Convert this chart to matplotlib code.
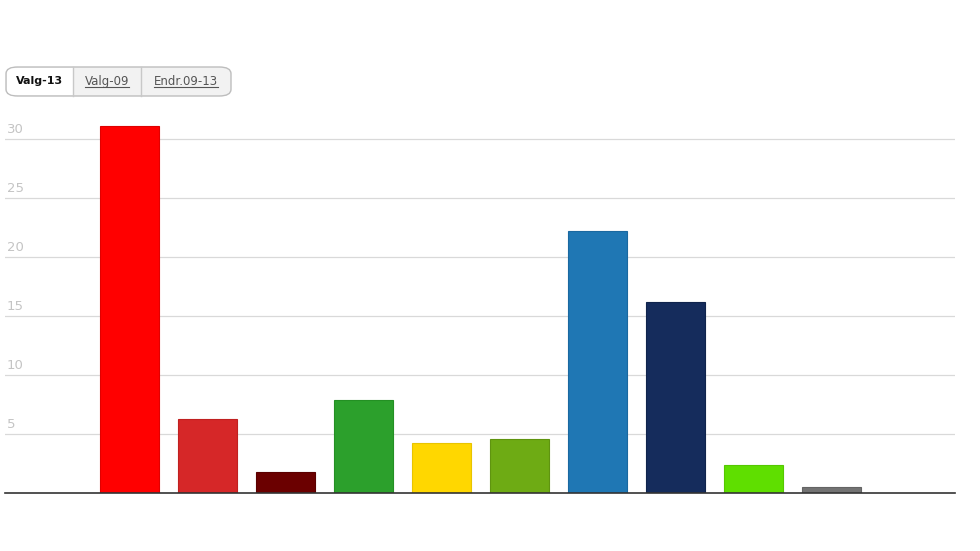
import matplotlib
matplotlib.use("Agg")
import matplotlib.pyplot as plt
from matplotlib.patches import FancyBboxPatch, Rectangle
from matplotlib.lines import Line2D
import matplotlib.transforms as mtransforms

# data
parties = ["A", "SV", "R", "Sp", "KrF", "V", "H", "FrP", "MDG", "Andre", ""]
values = [31.1, 6.25, 1.8, 7.9, 4.25, 4.6, 22.2, 16.2, 2.4, 0.5, 0]
colors = ["#ff0000", "#d62728", "#6b0000", "#2ca02c", "#ffd700", "#6eab14",
          "#1f77b4", "#152c5c", "#5fdf00", "#737373", "#ffffff"]
edges = ["#e00000", "#c02020", "#5a0000", "#249024", "#e8c400", "#5f9410",
         "#1a68a0", "#10244c", "#55c800", "#646464", "#ffffff"]
yticks = [5, 10, 15, 20, 25, 30]
buttons = ["Valg-13", "Valg-09", "Endr.09-13"]

W, H = 980, 551
fig = plt.figure(figsize=(W / 100, H / 100), dpi=100)

x0, x1 = 5, 955
ybase = 493
px_per_unit = 11.8
ymax = 33
ax = fig.add_axes([x0 / W, 1 - ybase / H, (x1 - x0) / W, ymax * px_per_unit / H])

pos = list(range(len(parties)))
ax.bar(pos, values, width=0.756, color=colors, edgecolor=edges, linewidth=0.8, zorder=3)

slot = 78
c0 = 129.5
ax.set_xlim((x0 - c0) / slot, (x1 - c0) / slot)
ax.set_ylim(0, ymax)

for t in yticks:
    ax.axhline(t, color="#d9d9d9", linewidth=0.9, zorder=1)
trans = mtransforms.blended_transform_factory(ax.transAxes, ax.transData)
for t in yticks:
    ax.text(2 / (x1 - x0), t + 0.5, str(t), transform=trans, color="#c4c4c4",
            fontsize=9.5, ha="left", va="baseline")

for s in ["top", "left", "right"]:
    ax.spines[s].set_visible(False)
ax.spines["bottom"].set_color("#333333")
ax.spines["bottom"].set_linewidth(1.2)
ax.spines["bottom"].set_zorder(4)
ax.set_xticks([])
ax.set_yticks([])

# toggle buttons
bx0, bx1, by0, by1 = 6, 231, 67, 96
dividers = [73, 141]
fig.patches.append(FancyBboxPatch((bx0 / W, 1 - by1 / H), (bx1 - bx0) / W, (by1 - by0) / H,
                                  boxstyle="round,pad=0,rounding_size=0.012",
                                  transform=fig.transFigure, facecolor="#f2f2f2",
                                  edgecolor="#bdbdbd", linewidth=1.0, zorder=1))
fig.patches.append(FancyBboxPatch(((bx0 + 1) / W, 1 - (by1 - 1) / H), (dividers[0] - bx0 - 1) / W,
                                  (by1 - by0 - 2) / H,
                                  boxstyle="round,pad=0,rounding_size=0.01",
                                  transform=fig.transFigure, facecolor="white",
                                  edgecolor="none", zorder=2))
fig.patches.append(Rectangle(((dividers[0] - 12) / W, 1 - (by1 - 1) / H), 12 / W, (by1 - by0 - 2) / H,
                             transform=fig.transFigure, facecolor="white", edgecolor="none", zorder=2))
for d in dividers:
    fig.lines.append(Line2D([d / W, d / W], [1 - by1 / H, 1 - by0 / H], transform=fig.transFigure,
                            color="#c8c8c8", linewidth=1.0, zorder=3))

edges_x = [bx0, dividers[0], dividers[1], bx1]
ty = 1 - 81.5 / H
for i, lab in enumerate(buttons):
    cx = (edges_x[i] + edges_x[i + 1]) / 2 / W
    if i == 0:
        fig.text(cx, ty, lab, ha="center", va="center", fontsize=8, fontweight="bold",
                 color="#111111", zorder=4)
    else:
        txt = fig.text(cx, ty, lab, ha="center", va="center", fontsize=8.5,
                       color="#555555", zorder=4)
        fig.canvas.draw()
        bb = txt.get_window_extent()
        uy = 1 - 87 / H
        fig.lines.append(Line2D([bb.x0 / W, bb.x1 / W], [uy, uy], transform=fig.transFigure,
                                color="#555555", linewidth=0.8, zorder=4))

fig.savefig("out.png", dpi=100)
